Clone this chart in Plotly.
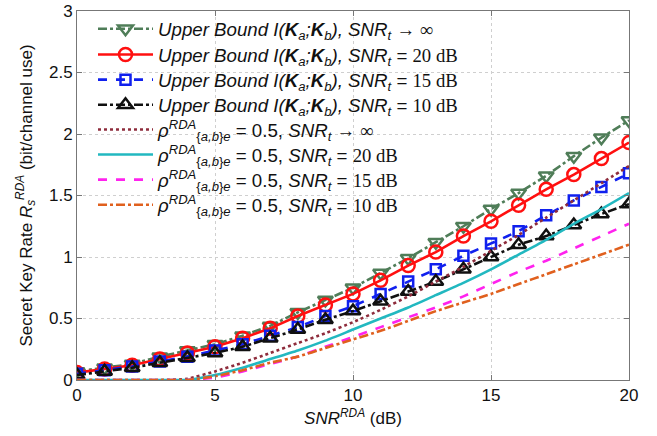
import plotly.graph_objects as go

# SNR^RDA grid (dB)
snr_db = list(range(0, 21))

# Upper bounds I(Ka;Kb)
ub_inf = [0.07, 0.10, 0.13, 0.19, 0.24, 0.29, 0.36, 0.44, 0.55, 0.65, 0.75,
          0.87, 0.99, 1.12, 1.25, 1.39, 1.52, 1.66, 1.82, 1.97, 2.11]
ub_20 = [0.06, 0.09, 0.12, 0.17, 0.22, 0.27, 0.34, 0.42, 0.52, 0.61, 0.70,
         0.81, 0.93, 1.04, 1.17, 1.29, 1.42, 1.55, 1.67, 1.80, 1.93]
ub_15 = [0.05, 0.08, 0.11, 0.15, 0.19, 0.24, 0.29, 0.36, 0.43, 0.52, 0.60,
         0.70, 0.80, 0.90, 1.01, 1.11, 1.21, 1.34, 1.46, 1.57, 1.68]
ub_10 = [0.04, 0.07, 0.10, 0.14, 0.18, 0.22, 0.27, 0.34, 0.41, 0.49, 0.56,
         0.64, 0.72, 0.80, 0.90, 1.00, 1.10, 1.17, 1.26, 1.35, 1.43]

# Secret key rate with rho = 0.5
rho_inf = [0, 0, 0, 0, 0.01, 0.07, 0.14, 0.22, 0.30, 0.38, 0.47,
           0.57, 0.68, 0.80, 0.92, 1.05, 1.18, 1.32, 1.46, 1.60, 1.74]
rho_20 = [0, 0, 0, 0, 0.00, 0.04, 0.10, 0.17, 0.24, 0.32, 0.41,
          0.50, 0.59, 0.69, 0.79, 0.90, 1.02, 1.14, 1.27, 1.39, 1.52]
rho_15 = [0, 0, 0, 0, 0, 0.02, 0.07, 0.13, 0.19, 0.27, 0.35,
          0.43, 0.51, 0.59, 0.68, 0.78, 0.88, 0.97, 1.07, 1.17, 1.27]
rho_10 = [0, 0, 0, 0, 0, 0.03, 0.08, 0.14, 0.19, 0.26, 0.33,
          0.40, 0.48, 0.56, 0.63, 0.70, 0.78, 0.86, 0.94, 1.02, 1.10]

SERIF = "'Liberation Serif', 'Times New Roman', serif"
SANS = "Arial, 'Liberation Sans', sans-serif"


def serif(t):
    return f"<span style=\"font-family:{SERIF}\">{t}</span>"


UB = "<i>Upper Bound I(<b>K</b><sub>a</sub>;<b>K</b><sub>b</sub>), SNR<sub>t</sub></i>"
RHO = "<i>ρ</i><sup><i>RDA</i></sup><sub>{<i>a,b</i>}<i>e</i></sub> = 0.5, <i>SNR<sub>t</sub></i>"

names = [
    f"{UB} {serif('→ ∞')}",
    f"{UB} = {serif('20 dB')}",
    f"{UB} = {serif('15 dB')}",
    f"{UB} = {serif('10 dB')}",
    f"{RHO} {serif('→ ∞')}",
    f"{RHO} = {serif('20 dB')}",
    f"{RHO} = {serif('15 dB')}",
    f"{RHO} = {serif('10 dB')}",
]

# one legend box per entry so every row sits at an even spacing
legend_ids = ["legend"] + [f"legend{k}" for k in range(2, 9)]
row_y = [0.951, 0.881, 0.813, 0.745, 0.678, 0.610, 0.542, 0.474]

fig = go.Figure()

marker_series = [
    (ub_inf, "#4f7d58", "dashdot", "triangle-down-open", 13),
    (ub_20, "#ff1010", "solid", "circle-open", 13),
    (ub_15, "#1020ee", "dash", "square-open", 10),
    (ub_10, "#101010", "dashdot", "triangle-up-open", 13),
]
for i, (ys, col, dash, sym, sz) in enumerate(marker_series):
    fig.add_trace(go.Scatter(
        x=snr_db, y=ys, name=names[i], mode="lines+markers", legend=legend_ids[i],
        line=dict(color=col, width=2.6, dash=dash),
        marker=dict(symbol=sym, size=sz, color=col, line=dict(width=2.5, color=col)),
    ))

line_series = [
    (rho_inf, "#8e2c3c", "dot"),
    (rho_20, "#22b8c0", "solid"),
    (rho_15, "#ff22ee", "dash"),
    (rho_10, "#e0601e", "dashdot"),
]
for j, (ys, col, dash) in enumerate(line_series):
    fig.add_trace(go.Scatter(
        x=snr_db, y=ys, name=names[4 + j], mode="lines", legend=legend_ids[4 + j],
        line=dict(color=col, width=2.6, dash=dash, shape="spline", smoothing=0.5),
    ))

axis_common = dict(
    showline=True, linecolor="#777777", linewidth=1, mirror="ticks",
    ticks="inside", ticklen=5, tickcolor="#777777",
    showgrid=True, gridcolor="#cfcfcf", griddash="dot", gridwidth=1,
    zeroline=False, automargin=False,
    tickfont=dict(family=SANS, size=17, color="#111111"),
)

fig.update_xaxes(
    range=[0, 20], dtick=5, tick0=0,
    title=dict(text="<i>SNR</i><sup><i>RDA</i></sup> (dB)",
               font=dict(family=SANS, size=17, color="#111111"), standoff=7),
    **axis_common,
)
fig.update_yaxes(
    range=[0, 3], dtick=0.5, tick0=0,
    title=dict(text="Secret Key Rate <i>R</i><sub><i>s</i></sub><sup><i>RDA</i></sup> (bit/channel use)",
               font=dict(family=SANS, size=17, color="#111111"), standoff=12),
    **axis_common,
)

legend_style = dict(
    x=0.029, xanchor="left", yanchor="middle",
    bgcolor="rgba(0,0,0,0)", borderwidth=0,
    font=dict(family=SANS, size=18.7, color="#111111"),
    itemwidth=55, tracegroupgap=0,
)

fig.update_layout(
    width=657, height=436,
    margin=dict(l=77, r=28, t=11, b=56, autoexpand=False),
    paper_bgcolor="white", plot_bgcolor="white",
    font=dict(family=SANS, color="#111111"),
    showlegend=True,
    **{lid: dict(y=yv, **legend_style) for lid, yv in zip(legend_ids, row_y)},
)

fig.write_html("out.html")
